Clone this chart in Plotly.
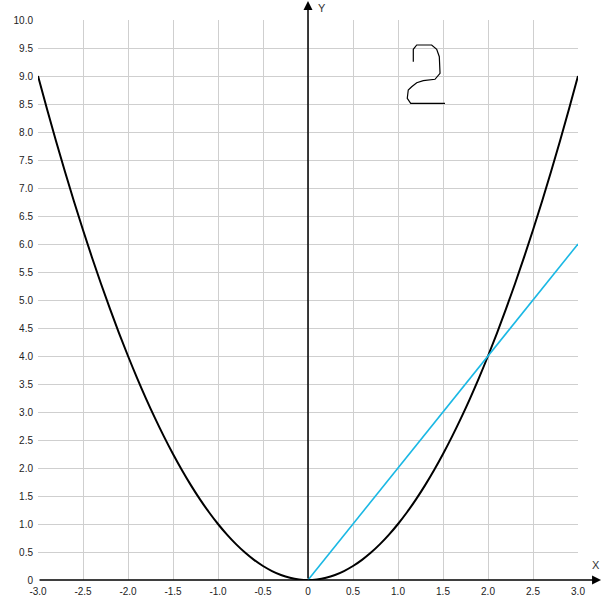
import plotly.graph_objects as go

# y = x^2 curve
parab_x = [-3.0, -2.9, -2.8, -2.7, -2.6, -2.5, -2.4, -2.3, -2.2, -2.1, -2.0, -1.9, -1.8, -1.7, -1.6,
           -1.5, -1.4, -1.3, -1.2, -1.1, -1.0, -0.9, -0.8, -0.7, -0.6, -0.5, -0.4, -0.3, -0.2, -0.1,
           0.0, 0.1, 0.2, 0.3, 0.4, 0.5, 0.6, 0.7, 0.8, 0.9, 1.0, 1.1, 1.2, 1.3, 1.4, 1.5, 1.6, 1.7,
           1.8, 1.9, 2.0, 2.1, 2.2, 2.3, 2.4, 2.5, 2.6, 2.7, 2.8, 2.9, 3.0]
parab_y = [9.0, 8.41, 7.84, 7.29, 6.76, 6.25, 5.76, 5.29, 4.84, 4.41, 4.0, 3.61, 3.24, 2.89, 2.56,
           2.25, 1.96, 1.69, 1.44, 1.21, 1.0, 0.81, 0.64, 0.49, 0.36, 0.25, 0.16, 0.09, 0.04, 0.01,
           0.0, 0.01, 0.04, 0.09, 0.16, 0.25, 0.36, 0.49, 0.64, 0.81, 1.0, 1.21, 1.44, 1.69, 1.96, 2.25,
           2.56, 2.89, 3.24, 3.61, 4.0, 4.41, 4.84, 5.29, 5.76, 6.25, 6.76, 7.29, 7.84, 8.41, 9.0]

# straight line y = 2x
line_x = [0.0, 3.0]
line_y = [0.0, 6.0]

# hand-drawn "2" in data coordinates
doodle_x = [1.17, 1.17, 1.208, 1.374, 1.43, 1.459, 1.467, 1.411, 1.281, 1.208, 1.152, 1.114, 1.103, 1.141, 1.522]
doodle_y = [9.255, 9.477, 9.554, 9.554, 9.477, 9.345, 9.048, 8.941, 8.916, 8.880, 8.809, 8.75, 8.602, 8.512, 8.512]

x_ticks = [-3.0, -2.5, -2.0, -1.5, -1.0, -0.5, 0.0, 0.5, 1.0, 1.5, 2.0, 2.5, 3.0]
x_labels = ["-3.0", "-2.5", "-2.0", "-1.5", "-1.0", "-0.5", "0", "0.5", "1.0", "1.5", "2.0", "2.5", "3.0"]
y_ticks = [0.0, 0.5, 1.0, 1.5, 2.0, 2.5, 3.0, 3.5, 4.0, 4.5, 5.0, 5.5, 6.0, 6.5, 7.0, 7.5, 8.0, 8.5, 9.0, 9.5, 10.0]
y_labels = ["0", "0.5", "1.0", "1.5", "2.0", "2.5", "3.0", "3.5", "4.0", "4.5", "5.0", "5.5", "6.0", "6.5",
            "7.0", "7.5", "8.0", "8.5", "9.0", "9.5", "10.0"]

fig = go.Figure()
fig.add_trace(go.Scatter(x=parab_x, y=parab_y, mode="lines", line=dict(color="#000000", width=2, shape="spline"),
                         hoverinfo="skip"))
fig.add_trace(go.Scatter(x=line_x, y=line_y, mode="lines", line=dict(color="#1ab8e4", width=1.6),
                         hoverinfo="skip"))
fig.add_trace(go.Scatter(x=doodle_x, y=doodle_y, mode="lines", line=dict(color="#000000", width=1.2),
                         hoverinfo="skip"))

tick_font = dict(family="Liberation Sans, Arial, sans-serif", size=10, color="#222222")
label_font = dict(family="Liberation Sans, Arial, sans-serif", size=11, color="#333333")

fig.update_layout(
    width=605, height=603,
    margin=dict(l=38, r=27, t=20, b=23, autoexpand=False),
    paper_bgcolor="white", plot_bgcolor="white",
    showlegend=False,
    xaxis=dict(range=[-3, 3], tickvals=x_ticks, ticktext=x_labels, showgrid=True, gridcolor="#cfcfcf",
               gridwidth=1, zeroline=False, showline=False, ticks="", tickfont=tick_font, ticklabelstandoff=4,
               fixedrange=True, automargin=False),
    yaxis=dict(range=[0, 10], tickvals=y_ticks, ticktext=y_labels, showgrid=True, gridcolor="#cfcfcf",
               gridwidth=1, zeroline=False, showline=False, ticks="", tickfont=tick_font, ticklabelstandoff=4,
               fixedrange=True, automargin=False),
    annotations=[
        dict(x=0, y=10.34, ax=0, ay=0, xref="x", yref="y", axref="x", ayref="y", text="", showarrow=True,
             arrowhead=2, arrowsize=1.2, arrowwidth=1.5, arrowcolor="#000000"),
        dict(x=3.256, y=0, ax=-3, ay=0, xref="x", yref="y", axref="x", ayref="y", text="", showarrow=True,
             arrowhead=2, arrowsize=1.2, arrowwidth=1.5, arrowcolor="#000000"),
        dict(x=0.526, y=1.022, xref="paper", yref="paper", text="Y", showarrow=False,
             xanchor="center", yanchor="middle", font=label_font),
        dict(x=1.033, y=0.027, xref="paper", yref="paper", text="X", showarrow=False,
             xanchor="center", yanchor="middle", font=label_font),
    ],
)

fig.write_html("out.html", config={"displayModeBar": False},
               post_script="document.body.style.margin='0';")
